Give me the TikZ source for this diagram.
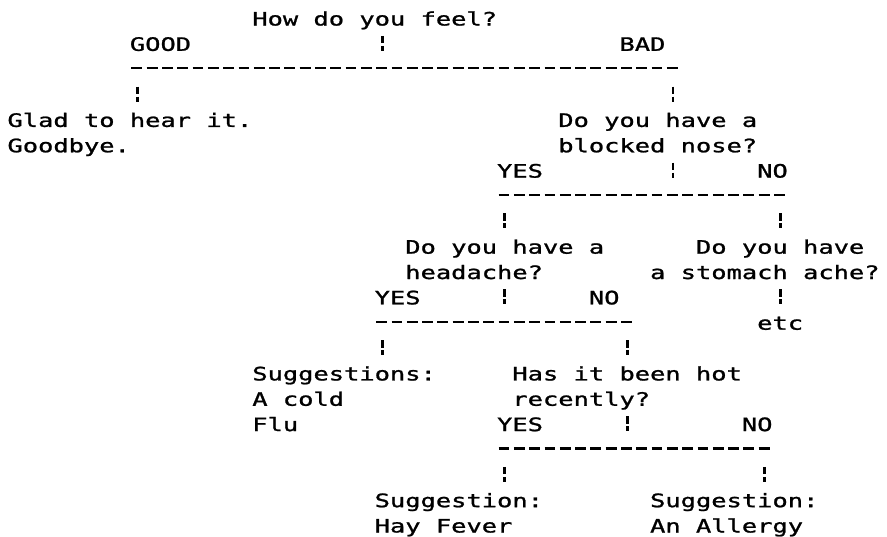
\documentclass[tikz,border=0pt]{standalone}
\usepackage{fontspec}
\newfontfamily\crt{DejaVu Sans Mono}[FakeStretch=1.3737,FakeBold=1.2]
\newcommand\crtfont{\crt\fontsize{18.5pt}{18.5pt}\selectfont}
\begin{document}
\begin{tikzpicture}[x=15.3pt,y=-25.35pt,
  tx/.style={anchor=base west,inner sep=0pt,outer sep=0pt,font=\crtfont},
  bar/.style={line width=2.4pt,dash pattern=on 10.8pt off 4.5pt},
  colonmark/.style={line width=2.8pt,dash pattern=on 7.5pt off 2.5pt on 5pt off 50pt}]
\fill[white] (-7.5pt,25.5pt) rectangle (879.5pt,-510.5pt);
\useasboundingbox (-7.5pt,25.5pt) rectangle (879.5pt,-510.5pt);
% text nodes (column, row)
\node[tx] (q0)    at (16,0)  {How do you feel?};
\node[tx] (good)  at (8,1)   {GOOD};
\node[tx] (bad)   at (40,1)  {BAD};
\node[tx] (glad1) at (0,4)   {Glad to hear it.};
\node[tx] (glad2) at (0,5)   {Goodbye.};
\node[tx] (q1a)   at (36,4)  {Do you have a};
\node[tx] (q1b)   at (36,5)  {blocked nose?};
\node[tx] (yes1)  at (32,6)  {YES};
\node[tx] (no1)   at (49,6)  {NO};
\node[tx] (q2a)   at (26,9)  {Do you have a};
\node[tx] (q2b)   at (26,10) {headache?};
\node[tx] (q3a)   at (45,9)  {Do you have};
\node[tx] (q3b)   at (42,10) {a stomach ache?};
\node[tx] (yes2)  at (24,11) {YES};
\node[tx] (no2)   at (38,11) {NO};
\node[tx] (etc)   at (49,12) {etc};
\node[tx] (s1a)   at (16,14) {Suggestions:};
\node[tx] (s1b)   at (16,15) {A cold};
\node[tx] (s1c)   at (16,16) {Flu};
\node[tx] (q4a)   at (33,14) {Has it been hot};
\node[tx] (q4b)   at (33,15) {recently?};
\node[tx] (yes3)  at (32,16) {YES};
\node[tx] (no3)   at (48,16) {NO};
\node[tx] (s2a)   at (24,19) {Suggestion:};
\node[tx] (s2b)   at (24,20) {Hay Fever};
\node[tx] (s3a)   at (42,19) {Suggestion:};
\node[tx] (s3b)   at (42,20) {An Allergy};
% branch bars
\coordinate (b1s) at ([xshift=1.5pt,yshift=8pt]8,2);
\coordinate (b1e) at ([xshift=12.3pt,yshift=8pt]43,2);
\coordinate (b2s) at ([xshift=1.5pt,yshift=8pt]32,7);
\coordinate (b2e) at ([xshift=12.3pt,yshift=8pt]50,7);
\coordinate (b3s) at ([xshift=1.5pt,yshift=8pt]24,12);
\coordinate (b3e) at ([xshift=12.3pt,yshift=8pt]40,12);
\coordinate (b4s) at ([xshift=1.5pt,yshift=8pt]32,17);
\coordinate (b4e) at ([xshift=12.3pt,yshift=8pt]49,17);
\draw[bar] (b1s) -- (b1e);
\draw[bar] (b2s) -- (b2e);
\draw[bar] (b3s) -- (b3e);
\draw[bar] (b4s) -- (b4e);
% colon marks
\coordinate (k0)  at (24.5,1);
\coordinate (k1)  at (8.5,3);
\coordinate (k2)  at (43.5,3);
\coordinate (k3)  at (43.5,6);
\coordinate (k4)  at (32.5,8);
\coordinate (k5)  at (50.5,8);
\coordinate (k6)  at (32.5,11);
\coordinate (k7)  at (50.5,11);
\coordinate (k8)  at (24.5,13);
\coordinate (k9)  at (40.5,13);
\coordinate (k10) at (40.5,16);
\coordinate (k11) at (32.5,18);
\coordinate (k12) at (49.5,18);
\foreach \k in {k0,k1,k2,k3,k4,k5,k6,k7,k8,k9,k10,k11,k12}
  \draw[colonmark] ([yshift=15pt]\k) -- (\k);
\end{tikzpicture}
\end{document}
